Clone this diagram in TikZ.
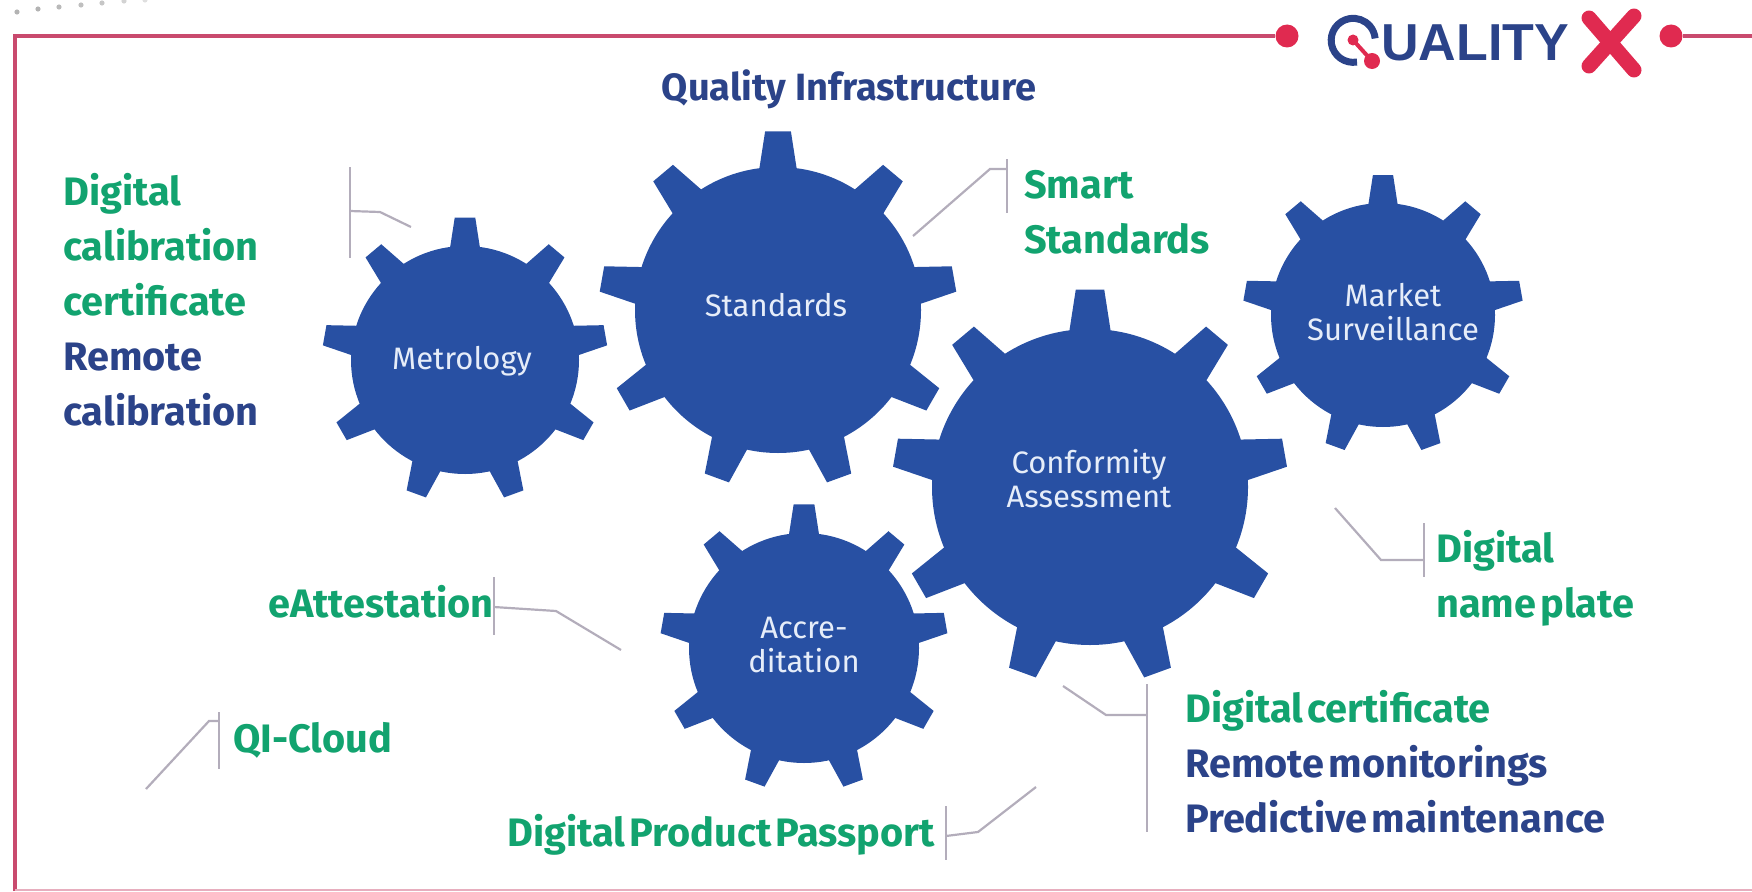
\documentclass[tikz,border=0pt]{standalone}
\usepackage{fontspec}
\setmainfont{Fira Sans}[WordSpace=0.45]
\newfontfamily\titlefont{Fira Sans}
\newfontfamily\logofont{Liberation Sans}
\definecolor{gearblue}{HTML}{2850A3}
\definecolor{txtgreen}{HTML}{12A36F}
\definecolor{txtblue}{HTML}{2B4389}
\definecolor{framered}{HTML}{C94A6E}
\definecolor{logored}{HTML}{E02A50}
\definecolor{leadgrey}{HTML}{B3ADBB}
\definecolor{gearwhite}{HTML}{E6EDF9}
\tikzset{
    lbl/.style={anchor=north west,inner sep=0pt,align=left,font=\fontsize{39.7}{55}\selectfont\bfseries,text=txtgreen},
    gearlbl/.style={align=center,inner sep=0pt,text=gearwhite,font=\titlefont\fontsize{31}{34}\selectfont},
    lead/.style={leadgrey,line width=2.2pt},
}
% x, y, radius of the wheel
\newcommand{\gearwheel}[3]{
    \begin{scope}[shift={(#1,#2)}]
        \fill[gearblue] (0,0) circle (#3);
        \foreach \a in {0,40,...,320}
            \fill[gearblue,rotate=\a] (-0.135*#3,-0.96*#3) -- (-0.09*#3,-1.25*#3) -- (0.09*#3,-1.25*#3) -- (0.135*#3,-0.96*#3) -- cycle;
    \end{scope}
}
\begin{document}
\begin{tikzpicture}[x=1pt,y=-1pt]
    \useasboundingbox (0,0) rectangle (1752,891);
    % dots at the top
    \foreach \x/\y/\o in {17/12/.6,38/9/.6,59/7/.55,81/5/.5,102/3/.45,124/1/.35,145/0/.25}
        \fill[gray,opacity=\o] (\x,\y) circle (2.6);
    % frame
    \coordinate (fb) at (15,891);
    \coordinate (ft) at (15,36);
    \node[circle,fill=logored,minimum size=23pt,inner sep=0pt] (dotl) at (1287,36) {};
    \node[circle,fill=logored,minimum size=23pt,inner sep=0pt] (dotr) at (1671,36) {};
    \coordinate (fr) at (1752,36);
    \draw[framered,line width=4pt] (fb) -- (ft) -- (dotl.west);
    \draw[framered,line width=4pt] (dotr.east) -- (fr);
    \draw[framered!45,line width=2pt] (15,890) -- (1752,890);
    % logo
    \draw[txtblue,line width=7pt] (1357,62) arc(-80:-355:22pt);
    \draw[logored,line width=4pt] (1353,40) -- (1372,61);
    \fill[logored] (1353,40) circle (5.5);
    \fill[logored] (1372,61) circle (8);
    \node[anchor=base west,inner sep=0pt,text=txtblue,font=\logofont\fontsize{52}{52}\selectfont\bfseries] (logo) at (1381,60) {UALITY};
    \draw[logored,line width=15pt,line cap=round] (1589,18) -- (1634,70);
    \draw[logored,line width=15pt,line cap=round] (1634,16) -- (1589,66);
    % gears
    \gearwheel{465}{360}{114}
    \gearwheel{778}{310}{143}
    \gearwheel{1383}{315}{112}
    \gearwheel{1090}{487}{158}
    \gearwheel{804}{648}{115}
    \node[gearlbl] (met) at (462,361) {Metrology};
    \node[gearlbl] (std) at (776,305) {Standards};
    \node[gearlbl] (mar) at (1393,312) {Market\\Surveillance};
    \node[gearlbl] (con) at (1089,479) {Conformity\\Assessment};
    \node[gearlbl] (acc) at (804,645) {Accre-\\ditation};
    % texts
    \node[anchor=base,inner sep=0pt,text=txtblue,font=\titlefont\fontsize{38}{38}\selectfont\bfseries] (qi) at (849,100) {Quality Infrastructure};
    \node[lbl] (cal) at (63,173) {Digital\\calibration\\certificate\\\textcolor{txtblue}{Remote}\\\textcolor{txtblue}{calibration}};
    \node[lbl] (sma) at (1024,170) {Smart\\Standards};
    \node[lbl] (nam) at (1436,530) {Digital\\name plate};
    \node[lbl] (cer) at (1185,690) {Digital certificate\\\textcolor{txtblue}{Remote monitorings}\\\textcolor{txtblue}{Predictive maintenance}};
    \node[lbl] (att) at (268,585) {eAttestation};
    \node[lbl] (clo) at (233,722) {QI-Cloud};
    \node[lbl] (pas) at (507,814) {Digital Product Passport};
    % leaders
    \coordinate (a1) at (350,167); \coordinate (a2) at (350,258);
    \coordinate (a3) at (350,211); \coordinate (a4) at (380,212); \coordinate (a5) at (411,227);
    \draw[lead] (a1) -- (a2);
    \draw[lead] (a3) -- (a4) -- (a5);
    \coordinate (b1) at (1007,159); \coordinate (b2) at (1007,213);
    \coordinate (b3) at (1007,169); \coordinate (b4) at (990,169); \coordinate (b5) at (913,236);
    \draw[lead] (b1) -- (b2);
    \draw[lead] (b3) -- (b4) -- (b5);
    \coordinate (c1) at (1424,523); \coordinate (c2) at (1424,577);
    \coordinate (c3) at (1424,560); \coordinate (c4) at (1381,560); \coordinate (c5) at (1335,508);
    \draw[lead] (c1) -- (c2);
    \draw[lead] (c3) -- (c4) -- (c5);
    \coordinate (d1) at (1147,684); \coordinate (d2) at (1147,832);
    \coordinate (d3) at (1147,715); \coordinate (d4) at (1106,715); \coordinate (d5) at (1063,686);
    \draw[lead] (d1) -- (d2);
    \draw[lead] (d3) -- (d4) -- (d5);
    \coordinate (e1) at (946,806); \coordinate (e2) at (946,860);
    \coordinate (e3) at (946,836); \coordinate (e4) at (978,832); \coordinate (e5) at (1036,787);
    \draw[lead] (e1) -- (e2);
    \draw[lead] (e3) -- (e4) -- (e5);
    \coordinate (f1) at (494,577); \coordinate (f2) at (494,635);
    \coordinate (f3) at (494,607); \coordinate (f4) at (556,611); \coordinate (f5) at (621,650);
    \draw[lead] (f1) -- (f2);
    \draw[lead] (f3) -- (f4) -- (f5);
    \coordinate (g1) at (219,712); \coordinate (g2) at (219,769);
    \coordinate (g3) at (219,721); \coordinate (g4) at (209,721); \coordinate (g5) at (146,789);
    \draw[lead] (g1) -- (g2);
    \draw[lead] (g3) -- (g4) -- (g5);
\end{tikzpicture}
\end{document}
